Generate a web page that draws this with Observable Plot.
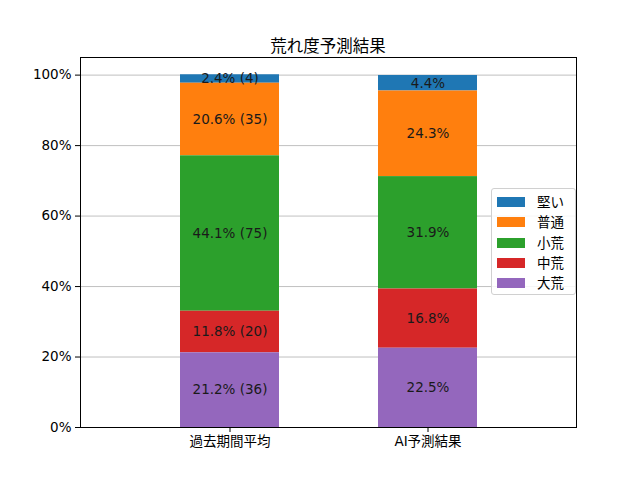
<!DOCTYPE html>
<html>
<head>
<meta charset="utf-8">
<script src="https://cdn.jsdelivr.net/npm/d3@7"></script>
<script src="https://cdn.jsdelivr.net/npm/@observablehq/plot@0.6"></script>
<style>
  body { margin: 0; background: #fff; font-family: "DejaVu Sans", "Noto Sans CJK JP", sans-serif; }
  #wrap { position: relative; width: 640px; height: 480px; }
  #title { position: absolute; left: 80px; width: 496px; top: 33px; text-align: center; font-size: 16.5px; color: #000; }
  #legend { position: absolute; left: 491px; top: 188px; width: 85px; height: 107px; border: 1px solid #d0d0d0; border-radius: 3px; background: rgba(255,255,255,0.85); box-sizing: border-box; }
  .item { position: absolute; left: 5px; height: 14px; font-size: 13.5px; line-height: 14px; color: #000; }
  .sw { position: absolute; left: 0; top: 2px; width: 28px; height: 10px; }
  .lab { position: absolute; left: 40px; top: 0; white-space: nowrap; }
</style>
</head>
<body>
<div id="wrap">
  <div id="title"></div>
  <div id="chart"></div>
  <div id="legend"></div>
</div>
<script>
const title = "荒れ度予測結果";
const categories = ["過去期間平均", "AI予測結果"];
const types = ["堅い", "普通", "小荒", "中荒", "大荒"];           // legend order (top to bottom)
const stackOrder = ["大荒", "中荒", "小荒", "普通", "堅い"];      // bottom to top
const colors = ["#1f77b4", "#ff7f0e", "#2ca02c", "#d62728", "#9467bd"];
const pastPct = [2.4, 20.6, 44.1, 11.8, 21.2];
const pastCount = [4, 35, 75, 20, 36];
const aiPct = [4.4, 24.3, 31.9, 16.8, 22.5];
const yTicks = [0, 20, 40, 60, 80, 100];

const data = [];
types.forEach((t, i) => {
  data.push({cat: categories[0], type: t, value: pastPct[i], label: `${pastPct[i].toFixed(1)}% (${pastCount[i]})`});
});
types.forEach((t, i) => {
  data.push({cat: categories[1], type: t, value: aiPct[i], label: `${aiPct[i].toFixed(1)}%`});
});

document.getElementById("title").textContent = title;

const chart = Plot.plot({
  width: 640,
  height: 480,
  marginLeft: 80,
  marginRight: 64,
  marginTop: 57,
  marginBottom: 53,
  style: {fontFamily: '"DejaVu Sans", "Noto Sans CJK JP", sans-serif', fontSize: "13px", color: "#000", background: "#fff"},
  x: {type: "band", domain: categories, paddingInner: 0.5, paddingOuter: 0.5},
  y: {domain: [0, 105]},
  color: {domain: types, range: colors},
  marks: [
    Plot.ruleY(yTicks, {stroke: "#b0b0b0", strokeWidth: 0.8}),
    Plot.barY(data, {x: "cat", y: "value", fill: "type", order: stackOrder}),
    Plot.text(data, Plot.stackY({x: "cat", y: "value", z: "type", order: stackOrder, text: "label", fill: "#1a1a1a", fontSize: 13.5})),
    Plot.frame({stroke: "#000", strokeWidth: 1}),
    Plot.axisY({ticks: yTicks, tickFormat: d => d + "%", tickSize: 5, tickPadding: 4, label: null, fontSize: 13.5}),
    Plot.axisX({tickSize: 5, tickPadding: 4, label: null, fontSize: 13.5})
  ]
});
document.getElementById("chart").appendChild(chart);

const legend = document.getElementById("legend");
types.forEach((t, i) => {
  const it = document.createElement("div");
  it.className = "item";
  it.style.top = (6 + i * 20.3) + "px";
  const sw = document.createElement("div");
  sw.className = "sw";
  sw.style.background = colors[i];
  const lab = document.createElement("span");
  lab.className = "lab";
  lab.textContent = t;
  it.appendChild(sw);
  it.appendChild(lab);
  legend.appendChild(it);
});
</script>
</body>
</html>
